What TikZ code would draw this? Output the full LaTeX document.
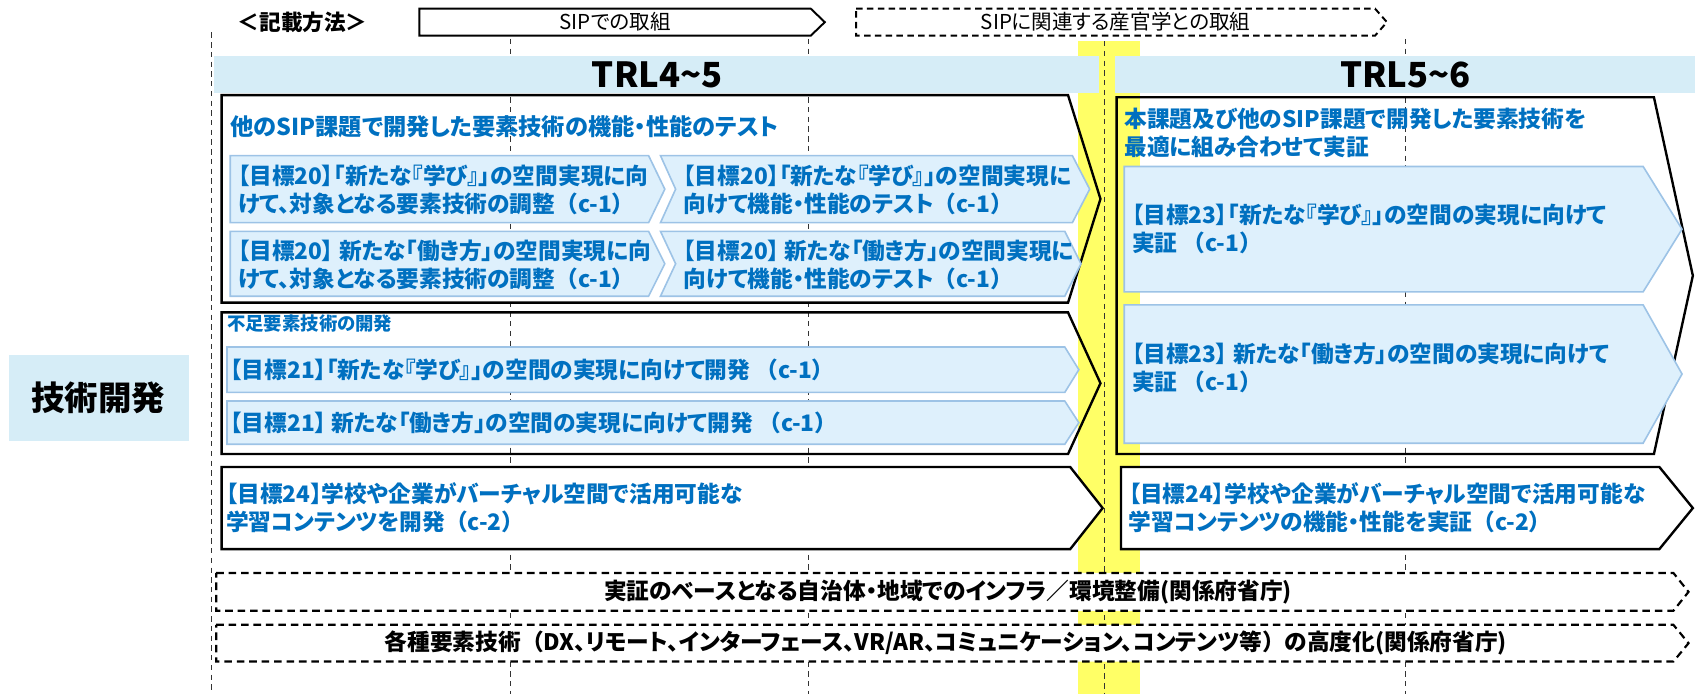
\documentclass[tikz,border=0pt]{standalone}
\usepackage{fontspec}
\setmainfont{Noto Sans CJK JP}[RawFeature={+palt}]
\newfontfamily\fullw{Noto Sans CJK JP}

\definecolor{sipblue}{RGB}{0,112,192}
\definecolor{chevfill}{RGB}{222,240,252}
\definecolor{chevline}{RGB}{157,195,230}
\definecolor{bandblue}{RGB}{214,237,247}
\definecolor{markyellow}{RGB}{255,255,102}

\newcommand{\fs}[2]{\fontsize{#1}{#2}\selectfont}
\newcommand{\code}[1]{{\fullw （}#1{\fullw ）}}
% arrow shape: [style]{left}{top}{right}{bottom}{tip}{notch}
\newcommand{\arrowshape}[7][]{%
  \path[#1] (#2,#3) -- (#4,#3) -- (#6,{(#3+#5)/2}) -- (#4,#5) -- (#2,#5)
    -- ({#2+#7},{(#3+#5)/2}) -- cycle;}

\begin{document}
\begin{tikzpicture}[x=1pt, y=-1pt,
  outerbox/.style = {draw=black, line width=2.2pt},
  whitebox/.style = {outerbox, fill=white},
  chevbox/.style = {draw=chevline, fill=chevfill, line width=1.5pt},
  dashbox/.style = {draw=black, fill=white, line width=2pt, dash pattern=on 7pt off 4.5pt},
  headbox/.style = {draw=black, fill=white, line width=1.8pt},
  gridline/.style = {black!80, line width=0.9pt, dash pattern=on 5pt off 4pt},
  bluetext/.style = {anchor=west, inner sep=0pt, align=left, text=sipblue, font=\bfseries\fs{21}{26}},
  blacktext/.style = {inner sep=0pt, font=\bfseries\fs{21}{26}},
  headtext/.style = {inner sep=0pt, font=\fs{19}{22}},
  trltext/.style = {inner sep=0pt, font=\bfseries\fs{32}{36}}
]

% Parameters
\def\ybot{642}

\useasboundingbox (0,0) rectangle (1568,642);

% Yellow marker band
\fill[markyellow] (997,38) rectangle (1055,\ybot);

% Vertical dashed lines
\draw[gridline] (196,30) -- (196,\ybot);
\draw[gridline] (472,36) -- (472,\ybot);
\draw[gridline] (748,36) -- (748,\ybot);
\draw[gridline] (1022,38) -- (1022,\ybot);
\draw[gridline] (1300,36) -- (1300,\ybot);

% TRL bands
\fill[bandblue] (198,52) rectangle (1017,86);
\fill[bandblue] (1031,52) rectangle (1568,86);
\node[trltext] (trl45) at (608,69) {TRL4\textasciitilde5};
\node[trltext] (trl56) at (1300,69) {TRL5\textasciitilde6};

% Legend
\node[blacktext, font=\bfseries\fs{20}{24}] (howto) at (280,20.5) {＜記載方法＞};
\arrowshape[headbox]{388}{8}{750}{33}{763}{0}
\node[headtext] (sip) at (569,20.5) {SIPでの取組};
\arrowshape[headbox, dash pattern=on 6pt off 4pt]{792}{8}{1272}{33}{1283}{0}
\node[headtext] (sipkan) at (1032,20.5) {SIPに関連する産官学との取組};

% Left block: TRL4~5
\arrowshape[outerbox]{205}{88}{988}{280}{1018}{0}
\node[bluetext, font=\bfseries\fs{21.5}{26}] (test) at (213,117) {他のSIP課題で開発した要素技術の機能・性能のテスト};

\arrowshape[chevbox]{213}{144}{600}{206}{615}{0}
\node[bluetext] (g20a) at (220,176) {【目標20】「新たな『学び』」の空間実現に向\\けて、対象となる要素技術の調整\code{c-1}};
\arrowshape[chevbox]{611}{144}{992}{206}{1008}{14}
\node[bluetext] (g20b) at (632,176) {【目標20】「新たな『学び』」の空間実現に\\向けて機能・性能のテスト\code{c-1}};
\arrowshape[chevbox]{213}{214}{600}{274}{615}{0}
\node[bluetext] (g20c) at (220,245) {【目標20】 新たな「働き方」の空間実現に向\\けて、対象となる要素技術の調整\code{c-1}};
\arrowshape[chevbox]{611}{214}{985}{274}{1000}{14}
\node[bluetext] (g20d) at (632,245) {【目標20】 新たな「働き方」の空間実現に\\向けて機能・性能のテスト\code{c-1}};

\arrowshape[outerbox]{205}{289}{988}{420}{1018}{0}
\node[bluetext, font=\bfseries\fs{17}{20}] (lack) at (210,299) {不足要素技術の開発};
\arrowshape[chevbox]{210}{321}{985}{363}{998}{0}
\node[bluetext] (g21a) at (213,342) {【目標21】「新たな『学び』」の空間の実現に向けて開発\ \code{c-1}};
\arrowshape[chevbox]{210}{371}{985}{411}{998}{0}
\node[bluetext] (g21b) at (213,391) {【目標21】 新たな「働き方」の空間の実現に向けて開発\ \code{c-1}};

\arrowshape[whitebox]{205}{432}{990}{508}{1020}{0}
\node[bluetext] (g24a) at (209,470) {【目標24】学校や企業がバーチャル空間で活用可能な\\学習コンテンツを開発\code{c-2}};

% Right block: TRL5~6
\arrowshape[outerbox]{1033}{90}{1530}{420}{1566}{0}
\node[bluetext] (demo) at (1040,123) {本課題及び他のSIP課題で開発した要素技術を\\最適に組み合わせて実証};
\arrowshape[chevbox]{1040}{154}{1520}{270}{1556}{0}
\node[bluetext] (g23a) at (1047,212) {【目標23】「新たな『学び』」の空間の実現に向けて\\実証\ \code{c-1}};
\arrowshape[chevbox]{1040}{282}{1520}{410}{1556}{0}
\node[bluetext] (g23b) at (1047,340) {【目標23】 新たな「働き方」の空間の実現に向けて\\実証\ \code{c-1}};

\arrowshape[whitebox]{1037}{432}{1535}{508}{1566}{0}
\node[bluetext] (g24b) at (1044,470) {【目標24】学校や企業がバーチャル空間で活用可能な\\学習コンテンツの機能・性能を実証\code{c-2}};

% Ministries (dashed)
\arrowshape[dashbox]{200}{530}{1548}{565}{1562}{0}
\node[blacktext] (infra) at (877,548) {実証のベースとなる自治体・地域でのインフラ／環境整備(関係府省庁)};
\arrowshape[dashbox]{200}{578}{1548}{612}{1562}{0}
\node[blacktext] (elem) at (875,595) {各種要素技術\code{DX、リモート、インターフェース、VR/AR、コミュニケーション、コンテンツ等}の高度化(関係府省庁)};

% Row label
\fill[bandblue] (8,328) rectangle (175,408);
\node[inner sep=0pt, font=\bfseries\fs{31}{34}] (tech) at (91,368) {技術開発};

\end{tikzpicture}
\end{document}
